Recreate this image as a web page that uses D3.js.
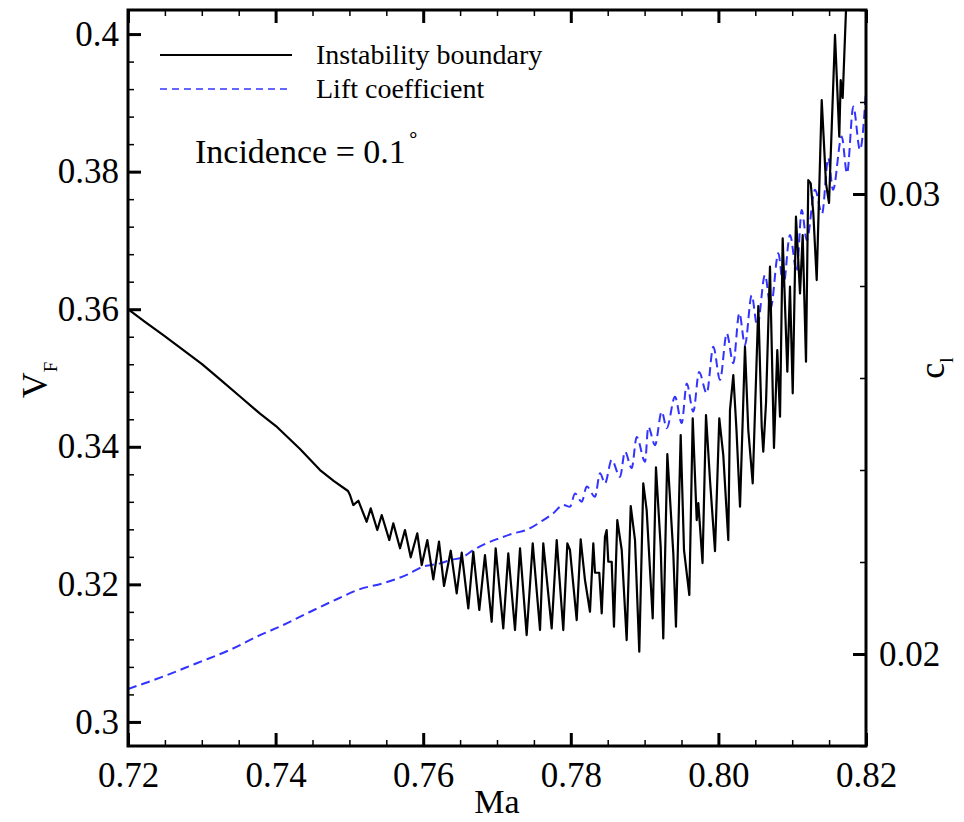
<!doctype html>
<html lang="en">
<head>
<meta charset="utf-8">
<title>Instability boundary vs Mach</title>
<style>
  body { margin: 0; background: #fff; }
  svg { font-family: "Liberation Serif", "Times New Roman", serif; }
  .axis .domain { display: none; }
  .axis text { fill: #000; }
  .major line { stroke: #000; stroke-width: 3; }
  .minor line { stroke: #000; stroke-width: 1.5; }
</style>
</head>
<body>
<svg width="964" height="822"></svg>
<script src="https://d3js.org/d3.v7.min.js"></script>
<script>
// instability boundary
var boundaryMa = [0.72, 0.7223, 0.72474, 0.72705, 0.73003, 0.73247, 0.73518, 0.73789, 0.74005, 0.74331,
  0.74602, 0.74791, 0.74981, 0.75008,
  0.75053, 0.75121, 0.75234, 0.75289, 0.75378, 0.75438, 0.75541, 0.75595, 0.75686, 0.75753,
  0.75831, 0.7592, 0.7598, 0.76056, 0.76137, 0.76214, 0.76282, 0.76373, 0.76454, 0.76522,
  0.76611, 0.76679, 0.7676, 0.76837, 0.76928, 0.76982, 0.77085, 0.77153, 0.77244, 0.77312,
  0.77402, 0.77484, 0.77583, 0.77627, 0.77741, 0.77809, 0.77898, 0.77953, 0.77989, 0.7808,
  0.78134, 0.78192, 0.7826, 0.78305, 0.78328, 0.78386, 0.78419, 0.78463, 0.78486, 0.78508,
  0.78554, 0.78585, 0.7863, 0.7869, 0.78757, 0.78812, 0.7887, 0.78928, 0.78982, 0.79028,
  0.7911, 0.79154, 0.79218, 0.79253, 0.79308, 0.79389, 0.79425, 0.79489, 0.79534, 0.79606,
  0.79652, 0.79706, 0.79728, 0.79785, 0.79832, 0.79886, 0.79954, 0.80012, 0.80066, 0.80134,
  0.80157, 0.80202, 0.80245, 0.80293, 0.8036, 0.80405, 0.80465, 0.80541, 0.80587, 0.80608,
  0.80645, 0.80699, 0.80753, 0.80798, 0.80835, 0.80871, 0.80934, 0.8097, 0.81007, 0.81051,
  0.81106, 0.81142, 0.81187, 0.81218, 0.81251, 0.81286, 0.81332, 0.814, 0.81458, 0.81499,
  0.8158, 0.81638, 0.81657, 0.81684, 0.81729, 0.81756];
var boundaryVF = [0.36, 0.35817, 0.35628, 0.35443, 0.35203, 0.34981, 0.34731, 0.34481, 0.34302, 0.33967,
  0.33662, 0.33502, 0.33357, 0.33299,
  0.33153, 0.33216, 0.3291, 0.33105, 0.3279, 0.33008, 0.32644, 0.32887, 0.32524, 0.3279,
  0.32393, 0.32742, 0.32281, 0.32644, 0.32073, 0.3262, 0.31976, 0.32489, 0.31869, 0.3246,
  0.31651, 0.32474, 0.31627, 0.32426, 0.31456, 0.32524, 0.3136, 0.32451, 0.31336, 0.32524,
  0.31263, 0.32596, 0.31336, 0.32596, 0.3136, 0.32644, 0.31336, 0.32596, 0.32499, 0.31481,
  0.32654, 0.32063, 0.31602, 0.32596, 0.32169, 0.32169, 0.31579, 0.32692, 0.3279, 0.32329,
  0.32329, 0.31384, 0.32935, 0.32499, 0.3119, 0.33139, 0.32644, 0.3102, 0.33469, 0.3308,
  0.31506, 0.33701, 0.32547, 0.31215, 0.33895, 0.32451, 0.31384, 0.34171, 0.32499, 0.31845,
  0.34414, 0.32935, 0.33182, 0.3231, 0.34462, 0.33517, 0.32484, 0.34414, 0.3388, 0.32644,
  0.34534, 0.35043, 0.34244, 0.33129, 0.35455, 0.34244, 0.33469, 0.36046, 0.34292, 0.33928,
  0.34632, 0.36618, 0.33982, 0.35407, 0.34437, 0.37031, 0.35091, 0.36327, 0.34777, 0.37345,
  0.36231, 0.37079, 0.35237, 0.37878, 0.3783, 0.37399, 0.36424, 0.39041, 0.3783, 0.37544,
  0.39987, 0.38508, 0.39332, 0.39071, 0.4035, 0.4079];

// lift coefficient (right axis)
var liftMa = [0.72, 0.72478, 0.72931, 0.73382, 0.73789, 0.74104, 0.74421, 0.74828, 0.75144, 0.75459,
  0.75776, 0.76001, 0.76228, 0.76363, 0.76543, 0.76679, 0.7686, 0.77041, 0.77221, 0.77402,
  0.77627, 0.77763, 0.77898, 0.77989, 0.78057, 0.78148, 0.78216, 0.78328, 0.78396, 0.78463,
  0.78554, 0.78667, 0.78734, 0.78825, 0.78893, 0.79006, 0.7905, 0.79141, 0.79232, 0.793,
  0.79412, 0.79503, 0.79571, 0.7966, 0.79738, 0.79842, 0.79931, 0.80022, 0.80113, 0.80202,
  0.80283, 0.8036, 0.80451, 0.80527, 0.80631, 0.80709, 0.80812, 0.80879, 0.8097, 0.81061,
  0.81129, 0.81197, 0.81309, 0.81404, 0.81489, 0.81553, 0.81671, 0.81743, 0.81828, 0.81919, 0.82];
var liftCl = [0.01924, 0.01951, 0.0198, 0.02009, 0.02041, 0.02063, 0.02088, 0.02119, 0.02141, 0.02154,
  0.02172, 0.0219, 0.02197, 0.02204, 0.02211, 0.02226, 0.02241, 0.02252, 0.02262, 0.0227,
  0.02291, 0.02306, 0.02324, 0.0232, 0.02349, 0.02331, 0.02364, 0.02342, 0.02393, 0.02371,
  0.02422, 0.02385, 0.0244, 0.02404, 0.02472, 0.02418, 0.02494, 0.02454, 0.02527, 0.02491,
  0.02559, 0.02502, 0.02588, 0.02527, 0.02613, 0.02567, 0.02668, 0.02596, 0.02697, 0.02632,
  0.02741, 0.02672, 0.0278, 0.02712, 0.02824, 0.02752, 0.02871, 0.02799, 0.02911, 0.02831,
  0.02965, 0.029, 0.03009, 0.02957, 0.03078, 0.03009, 0.03125, 0.03045, 0.0319, 0.03096, 0.03226];

// ticks
var maTicks = [0.72, 0.74, 0.76, 0.78, 0.80, 0.82];
var maMinor = d3.range(0.725, 0.82, 0.005);
var vfTicks = [0.30, 0.32, 0.34, 0.36, 0.38, 0.40];
var vfMinor = d3.range(0.300, 0.4035, 0.004);
var clTicks = [0.02, 0.03];
var clMinor = d3.range(0.018, 0.0341, 0.002);

var serif = "'Liberation Serif', 'Times New Roman', serif";

var svg = d3.select("svg"),
    margin = {top: 10, right: 98, bottom: 76, left: 128},
    width = +svg.attr("width") - margin.left - margin.right,
    height = +svg.attr("height") - margin.top - margin.bottom,
    g = svg.append("g").attr("transform", "translate(" + margin.left + "," + margin.top + ")");

var x = d3.scaleLinear().domain([0.72, 0.82]).range([0, width]);
var y = d3.scaleLinear().domain([0.2965, 0.4035]).range([height, 0]);
var y2 = d3.scaleLinear().domain([0.018, 0.034]).range([height, 0]);

g.append("clipPath").attr("id", "plotclip")
  .append("rect").attr("width", width).attr("height", height);

// lines
var boundary = boundaryMa.map(function(m, i) { return [m, boundaryVF[i]]; });
var lift = liftMa.map(function(m, i) { return [m, liftCl[i]]; });

g.append("path")
    .datum(lift)
    .attr("clip-path", "url(#plotclip)")
    .attr("fill", "none")
    .attr("stroke", "#3333ff")
    .attr("stroke-width", 2)
    .attr("stroke-dasharray", "9,5")
    .attr("d", d3.line().curve(d3.curveMonotoneX)
      .x(function(d) { return x(d[0]); }).y(function(d) { return y2(d[1]); }));

g.append("path")
    .datum(boundary)
    .attr("clip-path", "url(#plotclip)")
    .attr("fill", "none")
    .attr("stroke", "#000")
    .attr("stroke-width", 2.2)
    .attr("stroke-linejoin", "round")
    .attr("d", d3.line().x(function(d) { return x(d[0]); }).y(function(d) { return y(d[1]); }));

// axes: ticks point inward
var fmtV = function(d) { return String(+d.toFixed(2)); };

function styleAxis(sel) {
  sel.attr("font-family", serif).attr("font-size", 35);
}

g.append("g").attr("class", "axis major")
    .attr("transform", "translate(0," + height + ")")
    .call(d3.axisBottom(x).tickValues(maTicks).tickFormat(d3.format(".2f"))
      .tickSizeInner(-13).tickSizeOuter(0).tickPadding(16))
    .call(styleAxis);
g.append("g").attr("class", "axis minor")
    .attr("transform", "translate(0," + height + ")")
    .call(d3.axisBottom(x).tickValues(maMinor).tickFormat("").tickSize(-6));
g.append("g").attr("class", "axis major")
    .call(d3.axisTop(x).tickValues(maTicks).tickFormat("").tickSizeInner(-13).tickSizeOuter(0));
g.append("g").attr("class", "axis minor")
    .call(d3.axisTop(x).tickValues(maMinor).tickFormat("").tickSize(-6));

g.append("g").attr("class", "axis major")
    .call(d3.axisLeft(y).tickValues(vfTicks).tickFormat(fmtV)
      .tickSizeInner(-13).tickSizeOuter(0).tickPadding(9))
    .call(styleAxis);
g.append("g").attr("class", "axis minor")
    .call(d3.axisLeft(y).tickValues(vfMinor).tickFormat("").tickSize(-6));

g.append("g").attr("class", "axis major")
    .attr("transform", "translate(" + width + ",0)")
    .call(d3.axisRight(y2).tickValues(clTicks).tickFormat(d3.format(".2f"))
      .tickSizeInner(-13).tickSizeOuter(0).tickPadding(13))
    .call(styleAxis);
g.append("g").attr("class", "axis minor")
    .attr("transform", "translate(" + width + ",0)")
    .call(d3.axisRight(y2).tickValues(clMinor).tickFormat("").tickSize(-6));

// frame
g.append("rect")
    .attr("width", width).attr("height", height)
    .attr("fill", "none").attr("stroke", "#000").attr("stroke-width", 3);

// axis titles
svg.append("text")
    .attr("x", margin.left + width / 2).attr("y", 813)
    .attr("text-anchor", "middle").attr("font-size", 34)
    .text("Ma");

var vt = svg.append("text")
    .attr("transform", "translate(47,380) rotate(-90)")
    .attr("text-anchor", "middle").attr("font-size", 36);
vt.append("tspan").text("V");
vt.append("tspan").attr("font-size", 19).attr("dy", 10).text("F");

var ct = svg.append("text")
    .attr("transform", "translate(944,368) rotate(-90)")
    .attr("text-anchor", "middle").attr("font-size", 36);
ct.append("tspan").text("c");
ct.append("tspan").attr("font-size", 19).attr("dy", 9).text("l");

// legend
var legend = g.append("g").attr("font-size", 28);
legend.append("line")
    .attr("x1", 32).attr("x2", 164).attr("y1", 45).attr("y2", 45)
    .attr("stroke", "#000").attr("stroke-width", 2);
legend.append("text").attr("x", 188).attr("y", 54).text("Instability boundary");
legend.append("line")
    .attr("x1", 32).attr("x2", 164).attr("y1", 79).attr("y2", 79)
    .attr("stroke", "#3333ff").attr("stroke-width", 1.6).attr("stroke-dasharray", "7,5");
legend.append("text").attr("x", 188).attr("y", 88).text("Lift coefficient");

var inc = g.append("text").attr("x", 67).attr("y", 153).attr("font-size", 34);
inc.append("tspan").text("Incidence = 0.1");
inc.append("tspan").attr("font-size", 20).attr("dx", 1).attr("dy", -21).text("\u2218");
</script>
</body>
</html>
